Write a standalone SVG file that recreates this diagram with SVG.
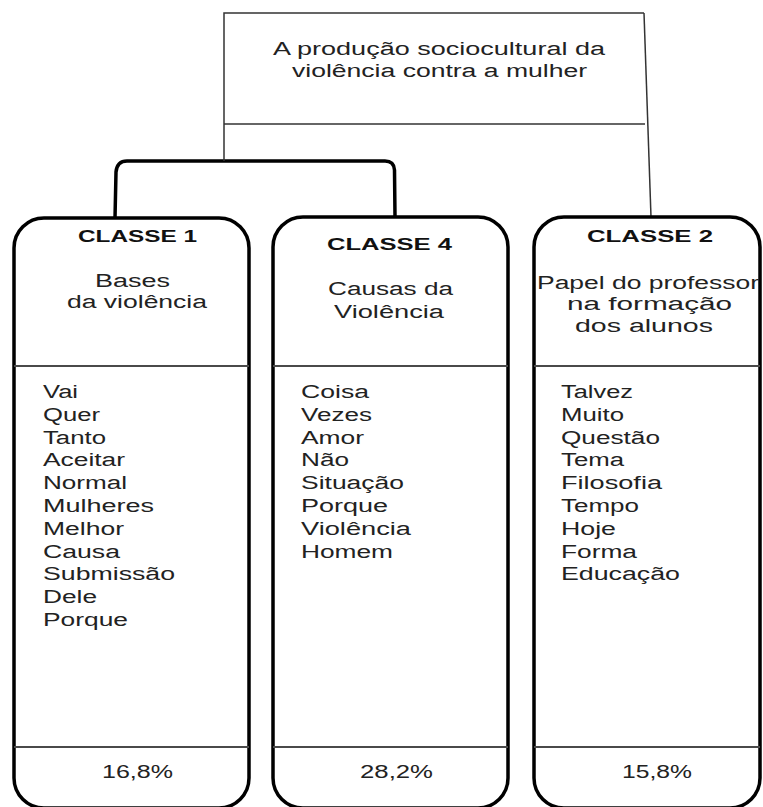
<svg xmlns="http://www.w3.org/2000/svg" width="763" height="807" viewBox="0 0 763 807">
<style>
.box{fill:#fff;stroke:#000;stroke-width:3.5}
.div{stroke:#4a4a4a;stroke-width:2}
.thin{stroke:#333;stroke-width:1.5;fill:none}
.conn{stroke:#000;stroke-width:3.5;fill:none;stroke-linecap:round}
text{font-family:"Liberation Sans",Arial,sans-serif;font-size:18px;fill:#222}
.h{font-weight:bold;font-size:17px;fill:#111}
</style>
<rect width="763" height="807" fill="#fff"/>
<g id="connectors">
<path class="conn" d="M115,218 L116,172 Q117,161 127,161 L385,161 Q394,161 394.5,170 L395,217"/>
<line class="thin" x1="644" y1="13" x2="651" y2="217"/>
</g>
<g id="node-top">
<path class="thin" d="M224,161 L224,13 L644,13"/>
<line class="thin" x1="224" y1="124" x2="645" y2="124"/>
<text x="273" y="55" textLength="332" lengthAdjust="spacingAndGlyphs">A  produção sociocultural da</text>
<text x="292" y="77" textLength="295" lengthAdjust="spacingAndGlyphs">violência contra a mulher</text>
</g>
<g id="node-classe1">
<rect class="box" x="14" y="218" width="235" height="590" rx="30"/>
<line class="div" x1="14" y1="366" x2="249" y2="366"/>
<line class="div" x1="14" y1="747" x2="249" y2="747"/>
<text class="h" x="78" y="242" textLength="119" lengthAdjust="spacingAndGlyphs">CLASSE 1</text>
<text x="95" y="287" textLength="75" lengthAdjust="spacingAndGlyphs">Bases</text>
<text x="67" y="308" textLength="140" lengthAdjust="spacingAndGlyphs">da violência</text>
<text x="43" y="398" textLength="35" lengthAdjust="spacingAndGlyphs">Vai</text>
<text x="43" y="420.8" textLength="57" lengthAdjust="spacingAndGlyphs">Quer</text>
<text x="43" y="443.6" textLength="63" lengthAdjust="spacingAndGlyphs">Tanto</text>
<text x="43" y="466.4" textLength="82" lengthAdjust="spacingAndGlyphs">Aceitar</text>
<text x="43" y="489.2" textLength="84" lengthAdjust="spacingAndGlyphs">Normal</text>
<text x="43" y="512" textLength="111" lengthAdjust="spacingAndGlyphs">Mulheres</text>
<text x="43" y="534.8" textLength="81" lengthAdjust="spacingAndGlyphs">Melhor</text>
<text x="43" y="557.6" textLength="77" lengthAdjust="spacingAndGlyphs">Causa</text>
<text x="43" y="580.4" textLength="132" lengthAdjust="spacingAndGlyphs">Submissão</text>
<text x="43" y="603.2" textLength="54" lengthAdjust="spacingAndGlyphs">Dele</text>
<text x="43" y="626" textLength="85" lengthAdjust="spacingAndGlyphs">Porque</text>
<text x="102" y="778" textLength="71" lengthAdjust="spacingAndGlyphs">16,8%</text>
</g>
<g id="node-classe4">
<rect class="box" x="273" y="217" width="235" height="591" rx="30"/>
<line class="div" x1="273" y1="366" x2="508" y2="366"/>
<line class="div" x1="273" y1="747" x2="508" y2="747"/>
<text class="h" x="327" y="250" textLength="125" lengthAdjust="spacingAndGlyphs">CLASSE 4</text>
<text x="328" y="295" textLength="125" lengthAdjust="spacingAndGlyphs">Causas da</text>
<text x="334" y="318" textLength="110" lengthAdjust="spacingAndGlyphs">Violência</text>
<text x="301" y="398" textLength="68" lengthAdjust="spacingAndGlyphs">Coisa</text>
<text x="301" y="420.8" textLength="71" lengthAdjust="spacingAndGlyphs">Vezes</text>
<text x="301" y="443.6" textLength="63" lengthAdjust="spacingAndGlyphs">Amor</text>
<text x="301" y="466.4" textLength="48" lengthAdjust="spacingAndGlyphs">Não</text>
<text x="301" y="489.2" textLength="103" lengthAdjust="spacingAndGlyphs">Situação</text>
<text x="301" y="512" textLength="87" lengthAdjust="spacingAndGlyphs">Porque</text>
<text x="301" y="534.8" textLength="110" lengthAdjust="spacingAndGlyphs">Violência</text>
<text x="301" y="557.6" textLength="92" lengthAdjust="spacingAndGlyphs">Homem</text>
<text x="360" y="778" textLength="73" lengthAdjust="spacingAndGlyphs">28,2%</text>
</g>
<g id="node-classe2">
<rect class="box" x="534" y="217" width="226" height="591" rx="30"/>
<line class="div" x1="534" y1="366" x2="760" y2="366"/>
<line class="div" x1="534" y1="747" x2="760" y2="747"/>
<text class="h" x="587" y="242" textLength="126" lengthAdjust="spacingAndGlyphs">CLASSE 2</text>
<text x="537" y="289" textLength="222" lengthAdjust="spacingAndGlyphs">Papel do professor</text>
<text x="567" y="310" textLength="165" lengthAdjust="spacingAndGlyphs">na formação</text>
<text x="575" y="332" textLength="138" lengthAdjust="spacingAndGlyphs">dos alunos</text>
<text x="561" y="398" textLength="72" lengthAdjust="spacingAndGlyphs">Talvez</text>
<text x="561" y="420.8" textLength="63" lengthAdjust="spacingAndGlyphs">Muito</text>
<text x="561" y="443.6" textLength="99" lengthAdjust="spacingAndGlyphs">Questão</text>
<text x="561" y="466.4" textLength="63" lengthAdjust="spacingAndGlyphs">Tema</text>
<text x="561" y="489.2" textLength="101" lengthAdjust="spacingAndGlyphs">Filosofia</text>
<text x="561" y="512" textLength="78" lengthAdjust="spacingAndGlyphs">Tempo</text>
<text x="561" y="534.8" textLength="55" lengthAdjust="spacingAndGlyphs">Hoje</text>
<text x="561" y="557.6" textLength="76" lengthAdjust="spacingAndGlyphs">Forma</text>
<text x="561" y="580.4" textLength="119" lengthAdjust="spacingAndGlyphs">Educação</text>
<text x="622" y="778" textLength="70" lengthAdjust="spacingAndGlyphs">15,8%</text>
</g>
</svg>
